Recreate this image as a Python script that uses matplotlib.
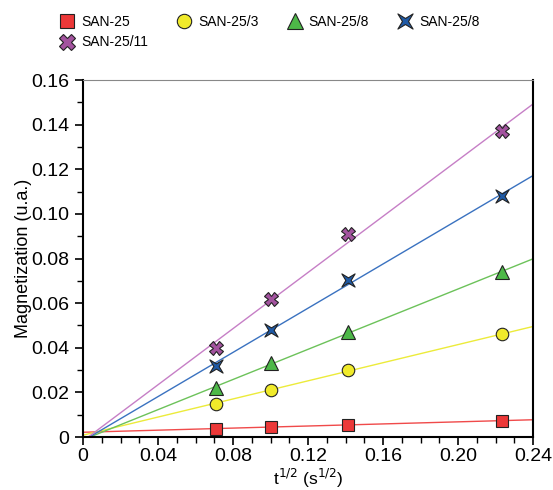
import numpy as np
import matplotlib
matplotlib.use("Agg")
import matplotlib.pyplot as plt
from matplotlib.path import Path
from matplotlib.ticker import MultipleLocator

plt.rcParams['font.family'] = ['Liberation Sans', 'DejaVu Sans']

x = [0.0707, 0.1, 0.1414, 0.2236]
labels = ["SAN-25", "SAN-25/3", "SAN-25/8", "SAN-25/8", "SAN-25/11"]
y_san25 = [0.0037, 0.0045, 0.0055, 0.0073]
y_san25_3 = [0.015, 0.021, 0.030, 0.046]
y_san25_8a = [0.022, 0.033, 0.047, 0.074]
y_san25_8b = [0.032, 0.048, 0.0705, 0.108]
y_san25_11 = [0.040, 0.062, 0.091, 0.137]
xticks = [0, 0.04, 0.08, 0.12, 0.16, 0.20, 0.24]
xticklabels = ['0', '0.04', '0.08', '0.12', '0.16', '0.20', '0.24']
yticks = [0, 0.02, 0.04, 0.06, 0.08, 0.10, 0.12, 0.14, 0.16]
yticklabels = ['0', '0.02', '0.04', '0.06', '0.08', '0.10', '0.12', '0.14', '0.16']

series = [y_san25, y_san25_3, y_san25_8a, y_san25_8b, y_san25_11]

star4 = Path([(1, 1), (0, 0.4), (-1, 1), (-0.4, 0), (-1, -1), (0, -0.4),
              (1, -1), (0.4, 0), (1, 1)],
             [Path.MOVETO] + [Path.LINETO] * 7 + [Path.CLOSEPOLY])

markers = ['s', 'o', '^', star4, 'X']
msizes = [9, 9, 10, 9.5, 10]
fcolors = ['#ec3838', '#f0ea2a', '#4db848', '#1f5aa6', '#a3539f']
lcolors = ['#f04a4a', '#eceb3a', '#6cc25a', '#3a72c0', '#c67fc6']

fig = plt.figure(figsize=(5.53, 4.9), dpi=100)
ax = fig.add_axes([83/553, 1-437/490, 450/553, 357/490])

xs = np.array(x)
xfit = np.array([0.0, 0.24])
handles = []
for ys, m, ms, fc, lc, lab in zip(series, markers, msizes, fcolors, lcolors, labels):
    p = np.polyfit(xs, np.array(ys), 1)
    ax.plot(xfit, np.polyval(p, xfit), color=lc, lw=1.0, zorder=2)
    h, = ax.plot(xs, ys, linestyle='none', marker=m, markersize=ms,
                 markerfacecolor=fc, markeredgecolor='#222222', markeredgewidth=0.8,
                 label=lab, zorder=3)
    handles.append(h)

ax.set_xlim(0, 0.24)
ax.set_ylim(0, 0.16)
ax.set_xticks(xticks)
ax.set_xticklabels(xticklabels)
ax.set_yticks(yticks)
ax.set_yticklabels(yticklabels)
ax.xaxis.set_minor_locator(MultipleLocator(0.01))
ax.yaxis.set_minor_locator(MultipleLocator(0.01))

ax.tick_params(which='major', direction='out', length=6, width=1.2, labelsize=14, pad=4)
ax.tick_params(axis='x', which='major', pad=2)
ax.tick_params(which='minor', direction='out', length=4, width=1.0)
ax.tick_params(top=False, right=False)
for s in ['left', 'bottom', 'right']:
    ax.spines[s].set_linewidth(1.5)
    ax.spines[s].set_color('black')
ax.spines['top'].set_linewidth(0.8)
ax.spines['top'].set_color('#888888')

ax.set_xlabel('t$^{1/2}$ (s$^{1/2}$)', fontsize=12.5, labelpad=1)
ax.set_ylabel('Magnetization (u.a.)', fontsize=13, labelpad=-1)

order = [0, 4, 1, 2, 3]
fig.legend([handles[i] for i in order], [labels[i] for i in order],
           ncol=4, loc='upper left', bbox_to_anchor=(48/553, 1 - 2/490),
           frameon=False, fontsize=10, handletextpad=0.5, columnspacing=2.1,
           labelspacing=0.5, handlelength=1.0, markerscale=1.15)

fig.savefig('out.png', dpi=100)
